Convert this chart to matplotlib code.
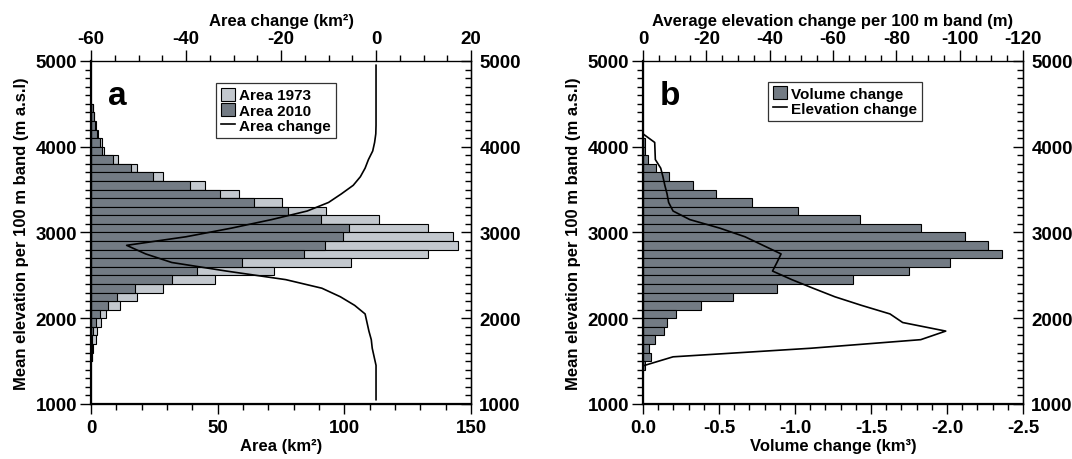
import numpy as np
import matplotlib
matplotlib.use("Agg")
from matplotlib import pyplot as plt
from matplotlib.patches import Patch
from matplotlib.lines import Line2D
from matplotlib.ticker import MultipleLocator

plt.rcParams['font.family'] = ['Liberation Sans', 'DejaVu Sans']
plt.rcParams['font.weight'] = 'bold'
plt.rcParams['axes.unicode_minus'] = False

# panel a: area per 100 m band (lower edge of band, km2)
band_a = [4400, 4300, 4200, 4100, 4000, 3900, 3800, 3700, 3600, 3500, 3400, 3300, 3200,
          3100, 3000, 2900, 2800, 2700, 2600, 2500, 2400, 2300, 2200, 2100, 2000, 1900,
          1800, 1700, 1600, 1500]
area_1973 = [0.7, 1.3, 2.0, 2.9, 4.2, 5.3, 10.5, 18.0, 28.3, 45.0, 58.5, 75.3, 92.8,
             113.8, 132.9, 143.0, 145.0, 133.1, 102.6, 72.2, 48.9, 28.5, 18.3, 11.4, 5.8, 3.8,
             2.5, 1.8, 0.8, 0.5]
area_2010 = [0.6, 1.2, 1.5, 2.5, 3.7, 4.2, 8.8, 15.7, 24.6, 39.1, 50.9, 64.5, 77.9,
             90.8, 102.0, 99.6, 92.4, 84.2, 59.7, 42.0, 31.8, 17.4, 10.1, 6.6, 3.6, 1.8,
             0.9, 0.5, 0.3, 0.2]

# area change line (band mid elevation, km2)
elev_line_a = [4950, 4850, 4750, 4650, 4550, 4450, 4350, 4250, 4150, 4050, 3950, 3850,
               3750, 3650, 3550, 3450, 3350, 3250, 3150, 3050, 2950, 2850, 2750, 2650,
               2550, 2450, 2350, 2250, 2150, 2050, 1950, 1850, 1750, 1650, 1550, 1450,
               1350, 1250, 1150, 1050]
area_change = [0, 0, 0, 0, 0, 0, 0, 0, -0.05, -0.3, -0.7, -1.6,
               -2.3, -3.3, -4.8, -7.3, -10.0, -14.5, -22.0, -30.5, -40.0, -52.5, -48.5, -43.0,
               -31.5, -19.0, -11.4, -7.5, -4.5, -2.3, -1.9, -1.5, -1.0, -0.8, -0.4, 0,
               0, 0, 0, 0]

# panel b: volume change per band (km3)
band_b = [4000, 3900, 3800, 3700, 3600, 3500, 3400, 3300, 3200, 3100, 3000, 2900, 2800,
          2700, 2600, 2500, 2400, 2300, 2200, 2100, 2000, 1900, 1800, 1700, 1600, 1500, 1400]
volume_change = [-0.01, -0.01, -0.035, -0.085, -0.17, -0.33, -0.48, -0.72, -1.02, -1.43,
                 -1.83, -2.12, -2.27, -2.36, -2.02, -1.75, -1.38, -0.88, -0.59, -0.38,
                 -0.22, -0.16, -0.14, -0.08, -0.04, -0.05, -0.01]

# average elevation change per band (m)
elev_line_b = [4150, 4050, 3950, 3850, 3750, 3650, 3550, 3450, 3350, 3250, 3150, 3050,
               2950, 2850, 2750, 2650, 2550, 2450, 2350, 2250, 2150, 2050, 1950, 1850,
               1750, 1650, 1550, 1450]
elev_change = [0, -3.7, -3.8, -3.9, -5.6, -6.3, -6.9, -7.6, -8.1, -9.5, -14.8, -24.3,
               -32.2, -37.9, -43.6, -42.3, -40.9, -47.0, -53.7, -60.6, -69.0, -78.0, -82.0, -95.6,
               -87.7, -53.0, -9.5, -0.5]

dark = '#737b84'
light = '#c3c8ce'
fs_tick = 13.5
fs_lab = 12


def style_axes(ax, ax_top):
    ax.set_ylim(1000, 5000)
    ax.yaxis.set_major_locator(MultipleLocator(1000))
    ax.yaxis.set_minor_locator(MultipleLocator(100))
    ax.tick_params(axis='y', which='both', direction='out', left=True, right=False,
                   labelsize=fs_tick, pad=2)
    ax.tick_params(axis='y', which='major', length=8, width=1)
    ax.tick_params(axis='y', which='minor', length=4, width=1)
    ax.tick_params(axis='x', which='both', direction='out', top=False, labelsize=fs_tick)
    ax.tick_params(axis='x', which='major', length=7, width=1)
    ax.tick_params(axis='x', which='minor', length=4, width=1)
    for s in ['left', 'bottom']:
        ax.spines[s].set_linewidth(1.6)
    ax.spines['right'].set_linewidth(0.9)
    ax_top.spines['top'].set_linewidth(0.9)
    ax_top.tick_params(axis='x', which='both', direction='out', labelsize=fs_tick, pad=2)
    ax_top.tick_params(axis='x', which='major', length=8, width=1)
    ax_top.tick_params(axis='x', which='minor', length=4, width=1)
    sec = ax.secondary_yaxis('right')
    sec.yaxis.set_major_locator(MultipleLocator(1000))
    sec.yaxis.set_minor_locator(MultipleLocator(100))
    sec.tick_params(axis='y', which='both', direction='in', labelsize=fs_tick, pad=6)
    sec.tick_params(axis='y', which='major', length=7, width=1)
    sec.tick_params(axis='y', which='minor', length=4, width=1)
    sec.spines['right'].set_linewidth(0.9)
    ax.set_ylabel('Mean elevation per 100 m band (m a.s.l)', fontsize=fs_lab,
                  fontweight='bold', labelpad=5)


fig = plt.figure(figsize=(10.72, 4.6), dpi=100)

# ---- panel a ----
ax = fig.add_axes([0.0849, 0.1196, 0.3545, 0.7457])
ax.barh(band_a, area_1973, height=100, align='edge', color=light, edgecolor='k', linewidth=0.8)
ax.barh(band_a, area_2010, height=100, align='edge', color=dark, edgecolor='k', linewidth=0.8)
ax.set_xlim(0, 150)
ax.xaxis.set_major_locator(MultipleLocator(50))
ax.xaxis.set_minor_locator(MultipleLocator(10))
ax.set_xlabel('Area (km²)', fontsize=fs_lab, fontweight='bold', labelpad=2)
ax2 = ax.twiny()
ax2.plot(area_change, elev_line_a, color='k', lw=1.2)
ax2.set_xlim(-60, 20)
ax2.xaxis.set_major_locator(MultipleLocator(20))
ax2.xaxis.set_minor_locator(MultipleLocator(5))
ax2.set_xlabel('Area change (km²)', fontsize=fs_lab, fontweight='bold', labelpad=4)
style_axes(ax, ax2)
ax.text(0.045, 0.875, 'a', transform=ax.transAxes, fontsize=24, fontweight='bold')
handles = [Patch(facecolor=light, edgecolor='k', linewidth=0.8, label='Area 1973'),
           Patch(facecolor=dark, edgecolor='k', linewidth=0.8, label='Area 2010'),
           Line2D([], [], color='k', lw=1.2, label='Area change')]
leg = ax2.legend(handles=handles, loc='upper left', bbox_to_anchor=(0.33, 0.935),
                 fontsize=11, frameon=True, fancybox=False, edgecolor='k',
                 handlelength=0.9, handleheight=0.9, handletextpad=0.3,
                 labelspacing=0.05, borderpad=0.3, borderaxespad=0)
leg.get_frame().set_linewidth(0.9)
for t in leg.get_texts():
    t.set_fontweight('bold')

# ---- panel b ----
bx = fig.add_axes([0.5998, 0.1196, 0.3545, 0.7457])
bx.barh(band_b, volume_change, height=100, align='edge', color=dark, edgecolor='k', linewidth=0.8)
bx.set_xlim(0, -2.5)
bx.xaxis.set_major_locator(MultipleLocator(0.5))
bx.xaxis.set_minor_locator(MultipleLocator(0.1))
bx.xaxis.set_major_formatter(lambda v, p: f'{v:.1f}')
bx.set_xlabel('Volume change (km³)', fontsize=fs_lab, fontweight='bold', labelpad=2)
bx2 = bx.twiny()
bx2.plot(elev_change, elev_line_b, color='k', lw=1.2)
bx2.set_xlim(0, -120)
bx2.xaxis.set_major_locator(MultipleLocator(20))
bx2.xaxis.set_minor_locator(MultipleLocator(5))
bx2.set_xlabel('Average elevation change per 100 m band (m)', fontsize=fs_lab,
               fontweight='bold', labelpad=4)
style_axes(bx, bx2)
bx.text(0.045, 0.875, 'b', transform=bx.transAxes, fontsize=24, fontweight='bold')
handles_b = [Patch(facecolor=dark, edgecolor='k', linewidth=0.8, label='Volume change'),
             Line2D([], [], color='k', lw=1.2, label='Elevation change')]
leg = bx2.legend(handles=handles_b, loc='upper left', bbox_to_anchor=(0.33, 0.94),
                 fontsize=11, frameon=True, fancybox=False, edgecolor='k',
                 handlelength=0.9, handleheight=0.9, handletextpad=0.3,
                 labelspacing=0.05, borderpad=0.3, borderaxespad=0)
leg.get_frame().set_linewidth(0.9)
for t in leg.get_texts():
    t.set_fontweight('bold')

fig.savefig('out.png', dpi=100)
